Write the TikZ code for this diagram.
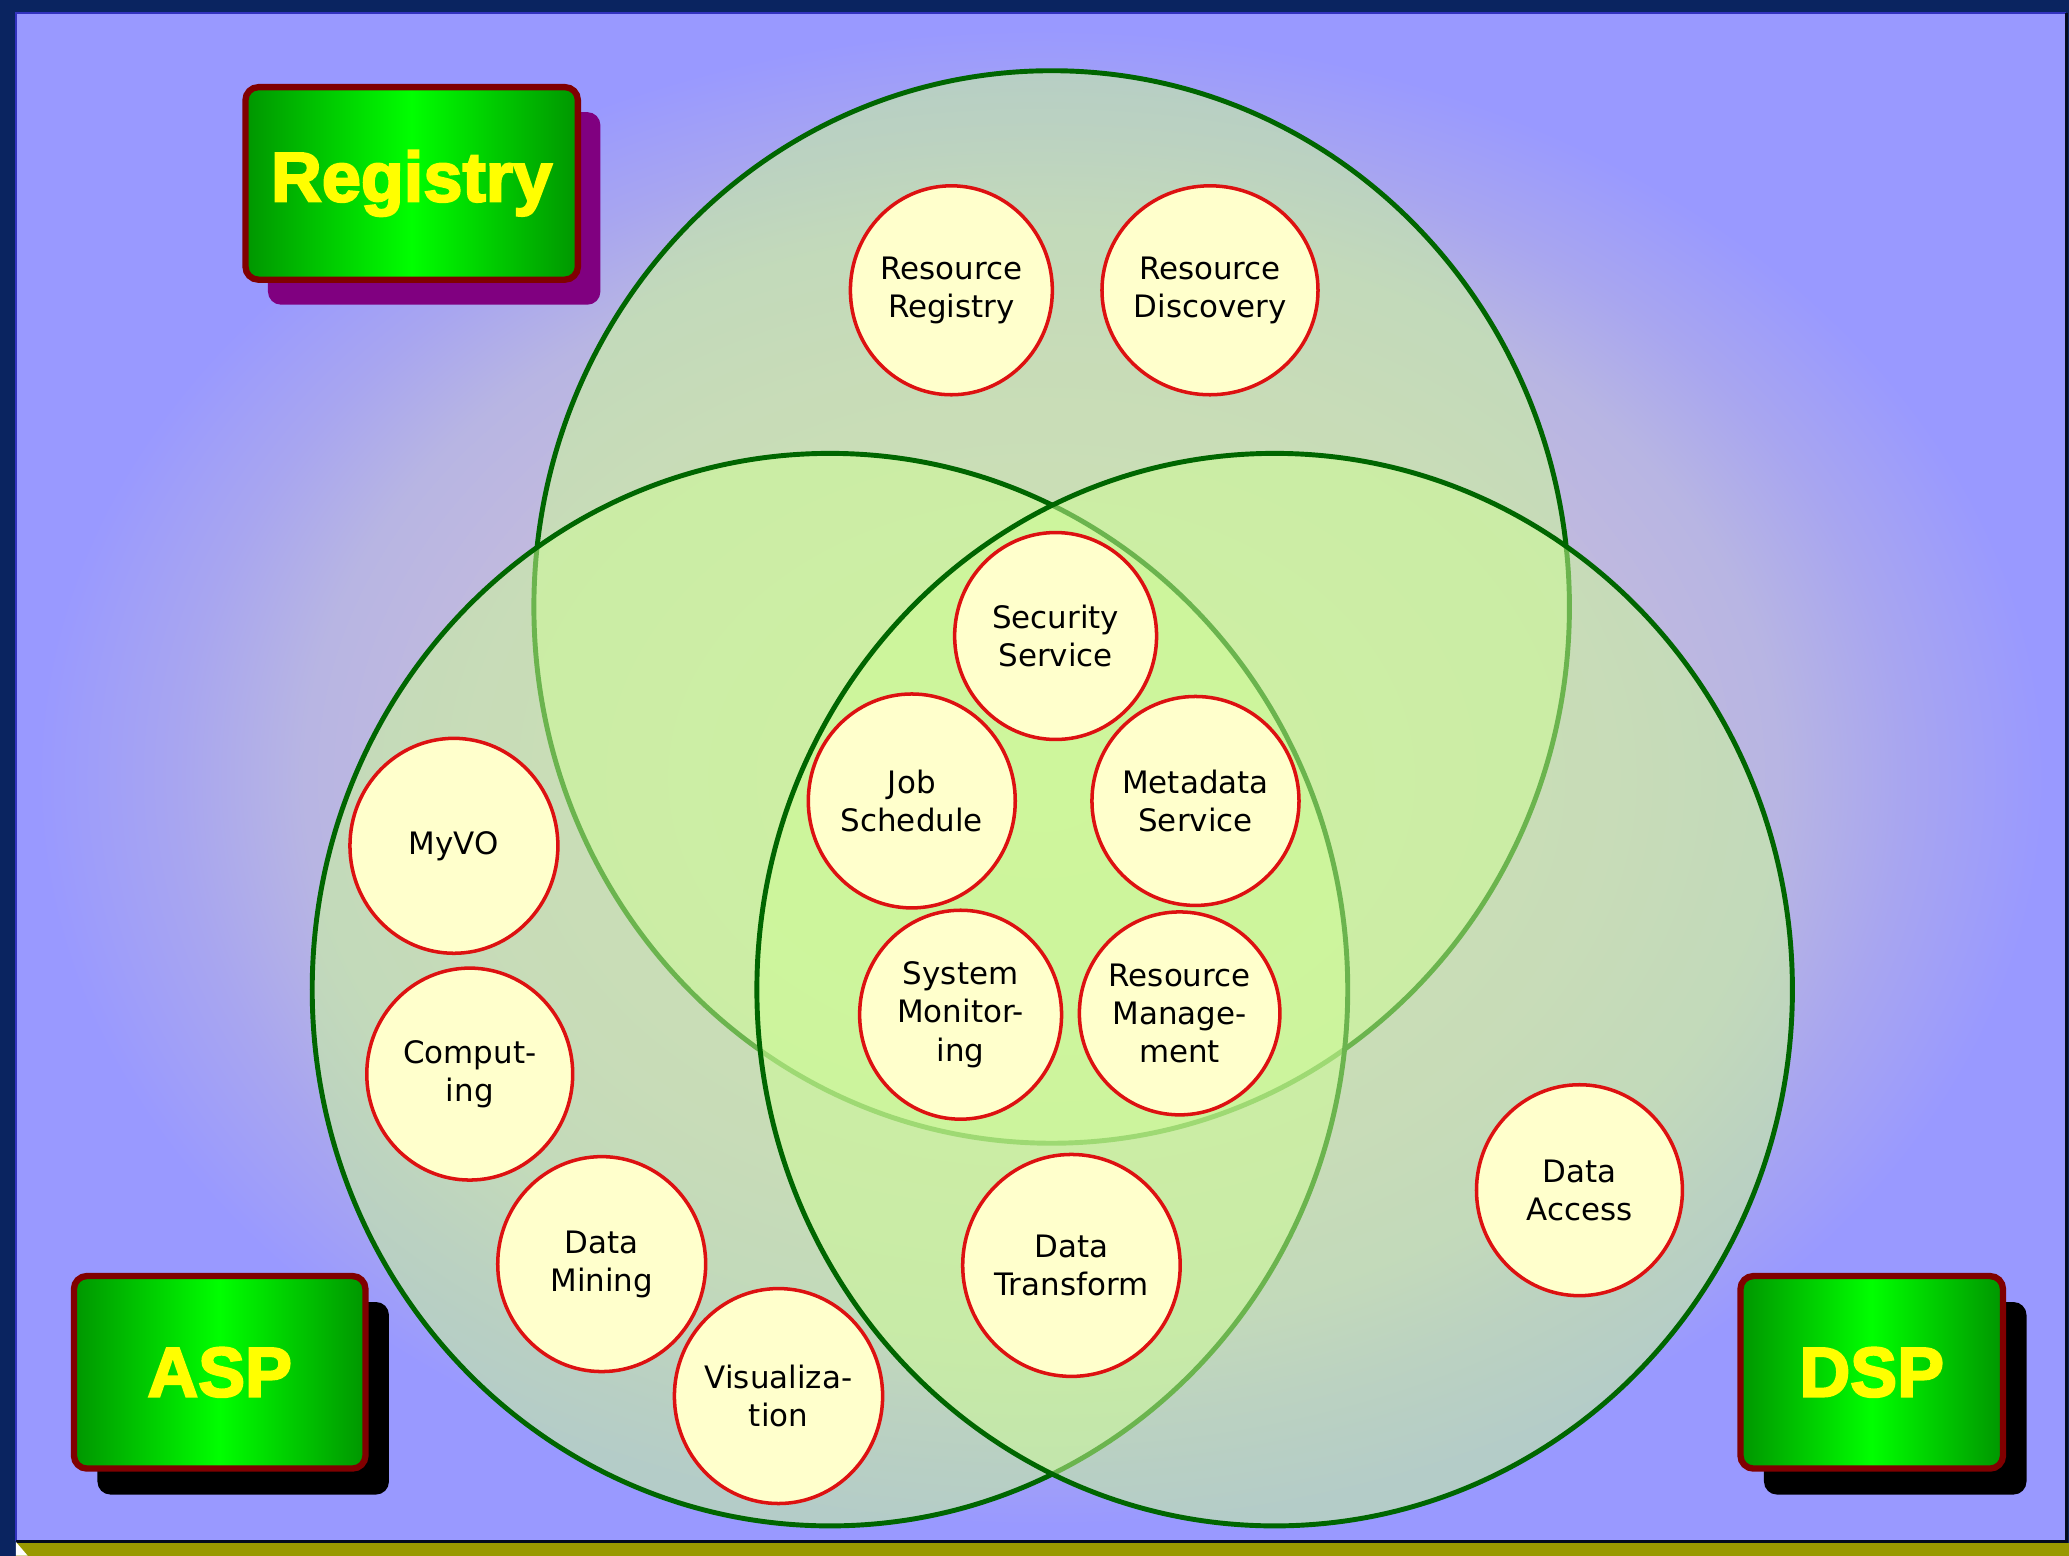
\documentclass[tikz,border=0pt]{standalone}
\usepackage{fontspec}
\setmainfont{DejaVu Sans}
\newfontfamily\labfont{Liberation Sans Bold}[FakeBold=3]
\usetikzlibrary{shapes.geometric,shadows}

\definecolor{navy}{RGB}{10,36,96}
\definecolor{panelline}{RGB}{50,50,190}
\definecolor{olivebar}{RGB}{153,153,0}
\definecolor{vennfill}{RGB}{206,252,150}
\definecolor{venndraw}{RGB}{0,102,0}
\definecolor{cream}{RGB}{255,255,204}
\definecolor{svcred}{RGB}{221,17,17}
\definecolor{boxdark}{RGB}{0,150,0}
\definecolor{boxbright}{RGB}{0,255,0}
\definecolor{boxline}{RGB}{128,0,0}
\definecolor{shadowpurple}{RGB}{128,0,128}
\definecolor{labyellow}{RGB}{255,255,0}

\pgfdeclareradialshading{bgshade}{\pgfpoint{0bp}{0bp}}{%
  rgb(0bp)=(0.82,0.79,0.82);
  rgb(14bp)=(0.76,0.73,0.87);
  rgb(18bp)=(0.72,0.71,0.89);
  rgb(21bp)=(0.66,0.65,0.94);
  rgb(24.5bp)=(0.6,0.6,1);
  rgb(50bp)=(0.6,0.6,1)}

\tikzset{
  venn/.style={fill=vennfill, fill opacity=0.52, draw=venndraw, line width=1.4pt},
  svc/.style={ellipse, draw=svcred, line width=1pt, fill=cream, inner sep=0pt,
    minimum width=2.02cm, minimum height=2.09cm, align=center,
    font=\fontsize{8.8pt}{10.9pt}\selectfont},
  svcbig/.style={svc, minimum width=2.08cm, minimum height=2.15cm},
  lab/.style={draw=boxline, line width=1.8pt, rounded corners=0.13cm,
    left color=boxdark, right color=boxdark, middle color=boxbright,
    text=labyellow, inner sep=0pt, minimum height=1.926cm,
    font=\labfont\fontsize{20pt}{24pt}\selectfont},
  blackshadow/.style={drop shadow={shadow xshift=0.235cm, shadow yshift=-0.26cm, fill=black, opacity=1}},
  purpleshadow/.style={drop shadow={shadow xshift=0.225cm, shadow yshift=-0.25cm, fill=shadowpurple, opacity=1}}
}

\begin{document}
\begin{tikzpicture}[x=0.013195cm, y=-0.013195cm]
\useasboundingbox (0,0) rectangle (1568,1179);
% frame
\fill[navy] (0,0) rectangle (1568,1179);
\shade[shading=bgshade] (12,10) rectangle (1566,1168);
\draw[panelline, line width=0.6pt] (12,1168) -- (12,10) -- (1566,10);
\draw[black!70!navy, line width=0.8pt] (1566,10) -- (1566,1168) -- (12,1168);
\fill[olivebar] (12,1169.5) rectangle (1568,1179);
\fill[white] (12,1168.5) -- (21,1179) -- (12,1179) -- cycle;

% venn circles: top, left, right
\path[venn] (797,460) ellipse [x radius=5.179cm, y radius=5.364cm];
\path[venn] (629,750) ellipse [x radius=5.179cm, y radius=5.364cm];
\path[venn] (966,750) ellipse [x radius=5.179cm, y radius=5.364cm];

% services
\node[svc] (resreg)  at (721,220) {Resource\\Registry};
\node[svc] (resdisc) at (917,220) {Resource\\Discovery};
\node[svc, minimum height=2.07cm] (secur) at (800,482) {Security\\Service};
\node[svc, minimum width=2.07cm, minimum height=2.14cm] (job) at (691,607) {Job\\Schedule};
\node[svc] (meta)    at (906,607) {Metadata\\Service};
\node[svc] (sysmon)  at (728,769) {System\\Monitor-\\ing};
\node[svc, minimum width=1.97cm, minimum height=2.03cm] (resman) at (894,768) {Resource\\Manage-\\ment};
\node[svcbig] (myvo)   at (344,641) {MyVO};
\node[svc, minimum width=2.06cm, minimum height=2.12cm] (comput) at (356,814) {Comput-\\ing};
\node[svcbig] (mining) at (456,958) {Data\\Mining};
\node[svcbig] (visual) at (590,1058) {Visualiza-\\tion};
\node[svc, minimum width=2.15cm, minimum height=2.22cm] (transf) at (812,959) {Data\\Transform};
\node[svc, minimum width=2.06cm, minimum height=2.11cm] (access) at (1197,902) {Data\\Access};

% labels
\node[lab, purpleshadow, minimum width=3.325cm] (registry) at (312,139) {Registry};
\node[lab, blackshadow, minimum width=2.916cm] (asp) at (166.5,1040) {ASP};
\node[lab, blackshadow, minimum width=2.626cm] (dsp) at (1418.5,1040) {DSP};
\end{tikzpicture}
\end{document}
